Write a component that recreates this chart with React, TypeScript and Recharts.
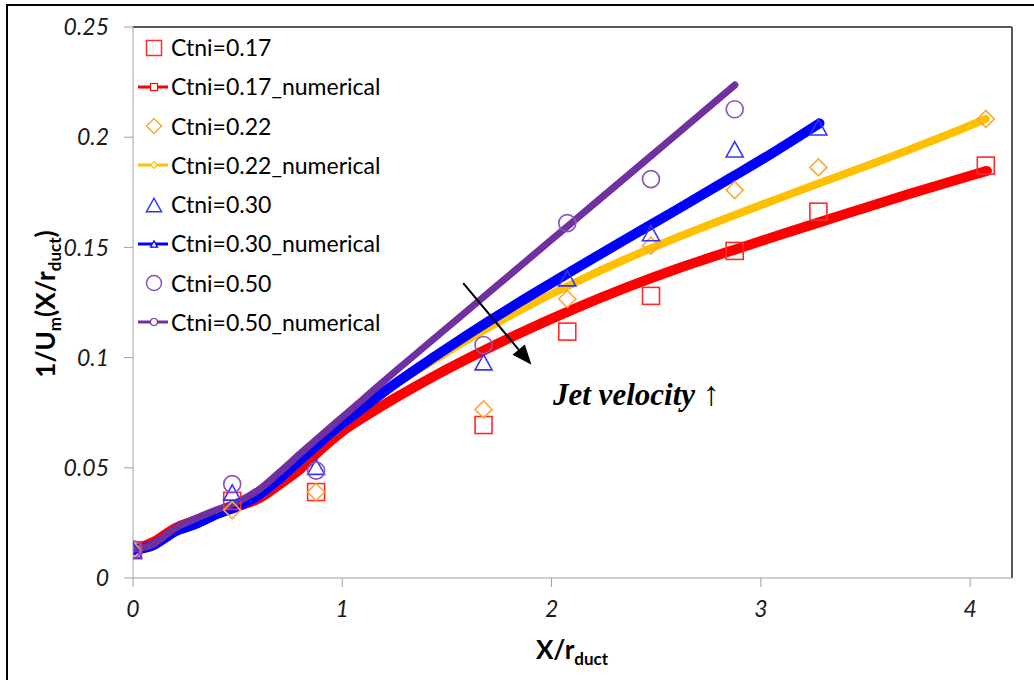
import { ComposedChart, Line, Scatter, XAxis, YAxis, ReferenceLine } from "recharts";

// experimental stations (x / r_duct)
const expX = [0, 0.474, 0.875, 1.675, 2.075, 2.475, 2.875, 3.275, 4.075];
const exp017 = [0.0126, 0.035, 0.039, 0.0694, 0.1118, 0.128, 0.1484, 0.1662, 0.1871];
const exp022 = [0.0126, 0.0308, 0.039, 0.0765, 0.1266, 0.1508, 0.176, 0.1863, 0.2083];
const exp030 = [0.0126, 0.0388, 0.0505, 0.0979, 0.136, 0.1565, 0.1945, 0.2045];
const exp050 = [0.013, 0.0426, 0.0487, 0.1057, 0.161, 0.181, 0.2127];

// numerical curves
const num017X = [0, 0.05, 0.1, 0.15, 0.2, 0.3, 0.4, 0.5, 0.6, 0.7, 0.8, 0.9, 1.0, 1.1, 1.25, 1.45, 1.65, 1.85, 2.1, 2.35, 2.6, 2.85, 3.1, 3.4, 3.7, 4.0, 4.08];
const num017Y = [0.0126, 0.0145, 0.0165, 0.0195, 0.0225, 0.0262, 0.0295, 0.0325, 0.036, 0.0425, 0.0495, 0.0585, 0.0665, 0.0728, 0.0815, 0.0922, 0.102, 0.1112, 0.1218, 0.1315, 0.1403, 0.1482, 0.156, 0.165, 0.174, 0.1825, 0.1847];

const num022X = [0, 0.05, 0.1, 0.15, 0.2, 0.3, 0.4, 0.5, 0.6, 0.7, 0.8, 0.9, 1.0, 1.1, 1.25, 1.45, 1.65, 1.85, 2.1, 2.35, 2.6, 2.85, 3.1, 3.4, 3.7, 4.0, 4.075];
const num022Y = [0.0126, 0.0138, 0.0155, 0.0185, 0.0215, 0.025, 0.029, 0.0325, 0.037, 0.0445, 0.053, 0.0615, 0.0695, 0.077, 0.0875, 0.0995, 0.111, 0.1215, 0.1335, 0.1445, 0.1545, 0.1638, 0.1728, 0.1833, 0.194, 0.2053, 0.2083];

const num030X = [0, 0.05, 0.1, 0.15, 0.2, 0.3, 0.4, 0.5, 0.6, 0.7, 0.8, 0.9, 1.0, 1.1, 1.25, 1.45, 1.65, 1.85, 2.1, 2.35, 2.6, 2.85, 3.05, 3.28];
const num030Y = [0.0126, 0.0135, 0.015, 0.018, 0.021, 0.0245, 0.029, 0.0325, 0.0375, 0.045, 0.0535, 0.062, 0.07, 0.0773, 0.088, 0.101, 0.1135, 0.1253, 0.1395, 0.1535, 0.1672, 0.1812, 0.1925, 0.2063];

const num050X = [0, 0.05, 0.1, 0.15, 0.2, 0.3, 0.4, 0.5, 0.6, 0.7, 0.8, 0.9, 1.0, 1.1, 1.25, 1.45, 1.65, 1.85, 2.1, 2.35, 2.6, 2.876];
const num050Y = [0.013, 0.0138, 0.0155, 0.019, 0.0225, 0.027, 0.031, 0.0345, 0.04, 0.048, 0.0565, 0.0648, 0.073, 0.0812, 0.0935, 0.1095, 0.1255, 0.1415, 0.1615, 0.1815, 0.2015, 0.2237];

const xTicks = [0, 1, 2, 3, 4];
const yTicks = [0, 0.05, 0.1, 0.15, 0.2, 0.25];

// arrow annotation (data coords)
const arrowFrom = { x: 1.578, y: 0.1338 };
const arrowTo = { x: 1.904, y: 0.0967 };

const FONT = "Lato, 'Open Sans', sans-serif";

const pts = (xs: number[], ys: number[]) => ys.map((y, i) => ({ x: xs[i], y }));

type Kind = "square" | "diamond" | "triangle" | "circle";

function Mark({ kind, cx, cy, size, color, sw = 1.5, fill = "none" }: {
  kind: Kind; cx: number; cy: number; size: number; color: string; sw?: number; fill?: string;
}) {
  const h = size / 2;
  if (kind === "square")
    return <rect x={cx - h} y={cy - h} width={size} height={size} fill={fill} stroke={color} strokeWidth={sw} />;
  if (kind === "diamond")
    return <polygon points={`${cx},${cy - h} ${cx + h},${cy} ${cx},${cy + h} ${cx - h},${cy}`} fill={fill} stroke={color} strokeWidth={sw} />;
  if (kind === "triangle")
    return <polygon points={`${cx},${cy - h * 0.9} ${cx + h},${cy + h * 0.9} ${cx - h},${cy + h * 0.9}`} fill={fill} stroke={color} strokeWidth={sw} />;
  return <circle cx={cx} cy={cy} r={h} fill={fill} stroke={color} strokeWidth={sw} />;
}

const series = [
  { name: "Ctni=0.17", kind: "square" as Kind, mark: "#ff2a2a", line: "#ff0000", width: 10, exp: pts(expX, exp017), num: pts(num017X, num017Y) },
  { name: "Ctni=0.22", kind: "diamond" as Kind, mark: "#ffa53a", line: "#ffc000", width: 8, exp: pts(expX, exp022), num: pts(num022X, num022Y) },
  { name: "Ctni=0.30", kind: "triangle" as Kind, mark: "#3333ff", line: "#0000ff", width: 10, exp: pts(expX, exp030), num: pts(num030X, num030Y) },
  { name: "Ctni=0.50", kind: "circle" as Kind, mark: "#8456bb", line: "#7030a0", width: 7, exp: pts(expX, exp050), num: pts(num050X, num050Y) },
];

function ArrowShape(props: any) {
  const { x1, y1, x2, y2 } = props;
  const ang = Math.atan2(y2 - y1, x2 - x1);
  const len = 20;
  const half = 8;
  const bx = x2 - len * Math.cos(ang);
  const by = y2 - len * Math.sin(ang);
  const px = -Math.sin(ang) * half;
  const py = Math.cos(ang) * half;
  return (
    <g>
      <line x1={x1} y1={y1} x2={bx} y2={by} stroke="#000" strokeWidth={2} />
      <polygon points={`${x2},${y2} ${bx + px},${by + py} ${bx - px},${by - py}`} fill="#000" />
    </g>
  );
}

function LegendBox() {
  const rows: { label: string; kind: Kind; color: string; line: boolean }[] = [];
  series.forEach((s) => {
    rows.push({ label: s.name, kind: s.kind, color: s.mark, line: false });
    rows.push({ label: s.name + "_numerical", kind: s.kind, color: s.line, line: true });
  });
  return (
    <div style={{ position: "absolute", left: 136, top: 28, fontFamily: FONT, fontSize: 23, color: "#000" }}>
      {rows.map((r) => (
        <div key={r.label} style={{ height: 39.25, display: "flex", alignItems: "center" }}>
          <svg width={34} height={24} style={{ display: "block" }}>
            {r.line ? (
              <>
                <line x1={2} y1={12} x2={32} y2={12} stroke={r.color} strokeWidth={3} />
                <Mark kind={r.kind} cx={18} cy={12} size={7} color={r.color} sw={1.2} fill="#fff" />
              </>
            ) : (
              <Mark kind={r.kind} cx={18} cy={12} size={15} color={r.color} sw={1.5} />
            )}
          </svg>
          <span style={{ marginLeft: 1, lineHeight: 1 }}>{r.label}</span>
        </div>
      ))}
    </div>
  );
}

export default function App() {
  const tickStyle = { fill: "#1a1a1a", fontSize: 23, fontStyle: "italic", fontFamily: FONT };
  return (
    <div style={{ position: "absolute", left: 0, top: 0, width: 1034, height: 680, background: "#fff", overflow: "hidden" }}>
      <div style={{ position: "absolute", left: 6, top: 4, width: 1100, height: 700, borderTop: "2px solid #000", borderLeft: "2px solid #000" }} />
      <ComposedChart width={1034} height={680} margin={{ top: 27, right: 22, bottom: 0, left: 0 }}>
        <XAxis
          type="number"
          dataKey="x"
          domain={[0, 4.2]}
          ticks={xTicks}
          allowDataOverflow
          height={102}
          stroke="#a0a0a0"
          tickSize={9}
          tickMargin={14}
          tick={tickStyle}
          label={{
            content: () => (
              <text x={572} y={659} textAnchor="middle" fontFamily={FONT} fontWeight="bold" fontSize={26} fill="#000">
                X/r<tspan fontSize={17} dy={6}>duct</tspan>
              </text>
            ),
          }}
        />
        <YAxis
          type="number"
          domain={[0, 0.25]}
          ticks={yTicks}
          allowDataOverflow
          width={133}
          stroke="#a0a0a0"
          tickSize={9}
          tickMargin={15}
          tick={tickStyle}
          tickFormatter={(v: number) => String(v)}
          label={{
            content: () => (
              <text x={0} y={0} transform="translate(55,304) rotate(-90)" textAnchor="middle" fontFamily={FONT} fontWeight="bold" fontSize={26} fill="#000">
                1/U<tspan fontSize={17} dy={6}>m</tspan>
                <tspan dy={-6}>(X/r</tspan>
                <tspan fontSize={17} dy={6}>duct</tspan>
                <tspan dy={-6}>)</tspan>
              </text>
            ),
          }}
        />
        <ReferenceLine y={0.25} stroke="#595959" strokeWidth={2} />
        <ReferenceLine x={4.2} stroke="#595959" strokeWidth={2} />
        {series.flatMap((s) => [
          <Scatter
            key={s.name + "-exp"}
            name={s.name}
            data={s.exp}
            dataKey="y"
            isAnimationActive={false}
            shape={(p: any) => <Mark kind={s.kind} cx={p.cx} cy={p.cy} size={17} color={s.mark} sw={1.6} />}
          />,
          <Line
            key={s.name + "-num"}
            name={s.name + "_numerical"}
            data={s.num}
            dataKey="y"
            type="monotone"
            stroke={s.line}
            strokeWidth={s.width}
            strokeLinecap="round"
            strokeLinejoin="round"
            dot={false}
            activeDot={false}
            isAnimationActive={false}
          />,
        ])}
        <ReferenceLine segment={[arrowFrom, arrowTo]} shape={ArrowShape} ifOverflow="visible" />
      </ComposedChart>
      <LegendBox />
      <svg width={1034} height={680} style={{ position: "absolute", left: 0, top: 0, pointerEvents: "none" }}>
        <text x={553} y={405} fontFamily="'Liberation Serif', 'Times New Roman', serif" fontWeight="bold" fontStyle="italic" fontSize={31} fill="#000">
          Jet velocity <tspan fontStyle="normal" fontWeight="normal" fontSize={34}>↑</tspan>
        </text>
      </svg>
    </div>
  );
}
